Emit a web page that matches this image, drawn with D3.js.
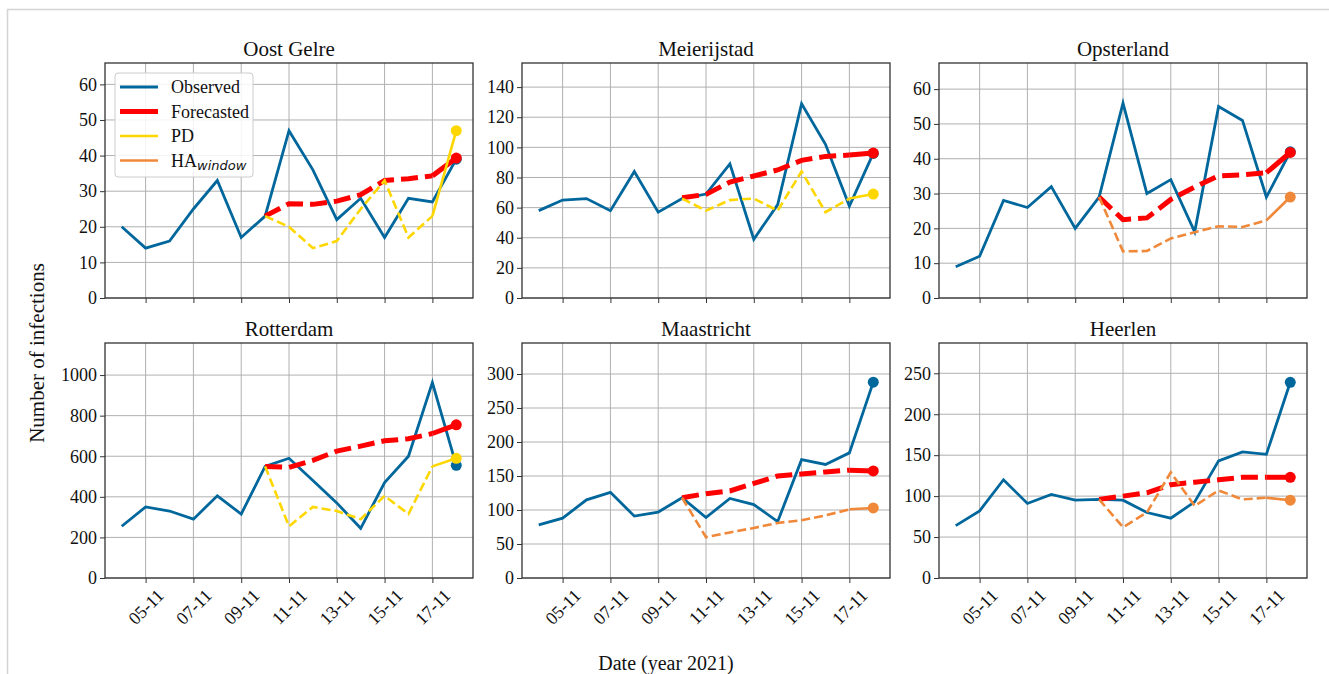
<!DOCTYPE html>
<html>
<head>
<meta charset="utf-8">
<script src="https://cdn.jsdelivr.net/npm/d3@7"></script>
<style>
  body { margin: 0; background: #fff; }
  svg { font-family: "Liberation Serif", "DejaVu Serif", serif; }
</style>
</head>
<body>
<svg id="chart" width="1329" height="674"></svg>
<script>
// dates 04-11 .. 18-11 (year 2021)
var dates = ['04-11','05-11','06-11','07-11','08-11','09-11','10-11','11-11',
             '12-11','13-11','14-11','15-11','16-11','17-11','18-11'];
var tickDates = ['05-11','07-11','09-11','11-11','13-11','15-11','17-11'];
var forecastStart = 6; // forecasts start at 10-11

var oostGelreObserved = [20,14,16,25,33,17,23,47,36,22,28,17,28,27,39];
var oostGelreForecast = [23,26.5,26.3,27.2,29,33,33.5,34.3,39.3];
var oostGelrePD       = [23,20,14,16,25,33,17,23,47];

var meierijstadObserved = [58,65,66,58,84,57,66,69,89,39,62,129,102,61,96];
var meierijstadForecast = [66.5,68.8,77,81,85,91.4,94,94.9,96.2];
var meierijstadPD       = [66,58,65,66,58,84,57,66,69];

var opsterlandObserved = [9,12,28,26,32,20,29,56,30,34,19,55,51,29,42];
var opsterlandForecast = [29,22.5,23,28.3,31.9,35.1,35.4,36,41.8];
var opsterlandHA       = [29,13.4,13.5,17.1,18.9,20.6,20.4,22.3,29];

var rotterdamObserved = [255,350,330,290,405,315,550,590,480,370,245,470,600,963,555];
var rotterdamForecast = [550,545,580,625,650,676,686,712,755];
var rotterdamPD       = [550,255,350,330,290,405,315,550,590];

var maastrichtObserved = [78,88,115,126,91,97,118,89,117,108,83,174,167,184,288];
var maastrichtForecast = [118,124,128,139,150,153,156,158.6,157.5];
var maastrichtHA       = [118,60,67,73.6,81,85,92,101,103];

var heerlenObserved = [64,82,120,91,102,95,96,95,80,73,93,143,154,151,239];
var heerlenForecast = [96,100,104,114,117,120,123,123,123];
var heerlenHA       = [96,62,80,129,88,107,96,98,95];

var cities  = ['Oost Gelre','Meierijstad','Opsterland','Rotterdam','Maastricht','Heerlen'];
var yMaxes  = [66, 156, 67.5, 1158, 345.6, 287];
var yTicks  = [
  [0,10,20,30,40,50,60],
  [0,20,40,60,80,100,120,140],
  [0,10,20,30,40,50,60],
  [0,200,400,600,800,1000],
  [0,50,100,150,200,250,300],
  [0,50,100,150,200,250]
];

var colors = {obs: '#00679c', fc: '#ff0000', pd: '#ffd700', ha: '#f0883a'};

var panels = [
  {obs: oostGelreObserved,   fc: oostGelreForecast,   base: oostGelrePD,   baseKey: 'pd'},
  {obs: meierijstadObserved, fc: meierijstadForecast, base: meierijstadPD, baseKey: 'pd'},
  {obs: opsterlandObserved,  fc: opsterlandForecast,  base: opsterlandHA,  baseKey: 'ha'},
  {obs: rotterdamObserved,   fc: rotterdamForecast,   base: rotterdamPD,   baseKey: 'pd'},
  {obs: maastrichtObserved,  fc: maastrichtForecast,  base: maastrichtHA,  baseKey: 'ha'},
  {obs: heerlenObserved,     fc: heerlenForecast,     base: heerlenHA,     baseKey: 'ha'}
];

var svg = d3.select('#chart');

// light frame around the figure
svg.append('rect')
  .attr('x', 7.5).attr('y', 9.5)
  .attr('width', 1400).attr('height', 800)
  .attr('fill', 'none').attr('stroke', '#d4d4d4').attr('stroke-width', 1.5);

var lefts = [105, 522, 939];
var tops = [63, 343];
var pw = 368, ph = 235;

panels.forEach(function(p, k) {
  var row = Math.floor(k / 3);
  var left = lefts[k % 3], top = tops[row];
  var g = svg.append('g').attr('transform', 'translate(' + left + ',' + top + ')');

  var x = d3.scaleLinear().domain([-0.7, dates.length - 1 + 0.7]).range([0, pw]);
  var y = d3.scaleLinear().domain([0, yMaxes[k]]).range([ph, 0]);
  var tickIdx = tickDates.map(d => dates.indexOf(d));

  // grid
  g.append('g').selectAll('line').data(tickIdx).enter().append('line')
    .attr('x1', d => x(d)).attr('x2', d => x(d))
    .attr('y1', 0).attr('y2', ph)
    .attr('stroke', '#b0b0b0').attr('stroke-width', 1);
  g.append('g').selectAll('line').data(yTicks[k]).enter().append('line')
    .attr('x1', 0).attr('x2', pw)
    .attr('y1', d => y(d)).attr('y2', d => y(d))
    .attr('stroke', '#b0b0b0').attr('stroke-width', 1);

  // axes (only bottom row gets date labels, shared x)
  var xAxis = d3.axisBottom(x).tickValues(tickIdx)
    .tickFormat(d => row === 1 ? dates[d] : '')
    .tickSize(5).tickSizeOuter(0);
  var yAxis = d3.axisLeft(y).tickValues(yTicks[k]).tickFormat(d3.format('d'))
    .tickSize(5).tickSizeOuter(0);

  var xg = g.append('g').attr('transform', 'translate(0,' + ph + ')').call(xAxis)
    .attr('font-family', null).attr('font-size', 18);
  xg.select('.domain').remove();
  xg.selectAll('line').attr('stroke', '#333');
  xg.selectAll('text')
    .attr('fill', '#111')
    .attr('text-anchor', 'middle')
    .attr('dominant-baseline', 'central')
    .attr('y', 0).attr('dy', null)
    .attr('transform', 'translate(0,29) rotate(-45)');

  var yg = g.append('g').call(yAxis)
    .attr('font-family', null).attr('font-size', 18);
  yg.select('.domain').remove();
  yg.selectAll('line').attr('stroke', '#333');
  yg.selectAll('text').attr('fill', '#111').attr('x', -8);

  // frame
  g.append('rect').attr('width', pw).attr('height', ph)
    .attr('fill', 'none').attr('stroke', '#333').attr('stroke-width', 1.3);

  // title
  g.append('text')
    .attr('x', pw / 2).attr('y', -7)
    .attr('text-anchor', 'middle')
    .attr('font-size', 21)
    .attr('fill', '#111')
    .text(cities[k]);

  var lineObs = d3.line().x((d, i) => x(i)).y(d => y(d));
  var lineFc = d3.line().x((d, i) => x(forecastStart + i)).y(d => y(d));
  var n = p.fc.length;

  // observed
  g.append('path').datum(p.obs)
    .attr('d', lineObs).attr('fill', 'none')
    .attr('stroke', colors.obs).attr('stroke-width', 2.8)
    .attr('stroke-linejoin', 'miter');
  g.append('circle')
    .attr('cx', x(p.obs.length - 1)).attr('cy', y(p.obs[p.obs.length - 1]))
    .attr('r', 5.5).attr('fill', colors.obs);

  function drawForecast(vals, color, width, dash) {
    g.append('path').datum(vals.slice(0, n - 1))
      .attr('d', lineFc).attr('fill', 'none')
      .attr('stroke', color).attr('stroke-width', width)
      .attr('stroke-dasharray', dash);
    g.append('line')
      .attr('x1', x(forecastStart + n - 2)).attr('y1', y(vals[n - 2]))
      .attr('x2', x(forecastStart + n - 1)).attr('y2', y(vals[n - 1]))
      .attr('stroke', color).attr('stroke-width', width);
    g.append('circle')
      .attr('cx', x(forecastStart + n - 1)).attr('cy', y(vals[n - 1]))
      .attr('r', 5.5).attr('fill', color);
  }

  drawForecast(p.fc, colors.fc, 5, '17,7');
  drawForecast(p.base, colors[p.baseKey], 2.6, '9,4');
});

// legend (first panel only)
var lg = svg.append('g').attr('transform', 'translate(115,73)');
lg.append('rect').attr('width', 138).attr('height', 104).attr('rx', 3)
  .attr('fill', 'rgba(255,255,255,0.85)').attr('stroke', '#cccccc');
var legendItems = [
  {label: 'Observed', color: colors.obs, w: 2.8},
  {label: 'Forecasted', color: colors.fc, w: 5},
  {label: 'PD', color: colors.pd, w: 2.6},
  {label: 'HA', color: colors.ha, w: 2.6, sub: 'window'}
];
legendItems.forEach(function(d, i) {
  var yy = 14 + i * 24.5;
  lg.append('line').attr('x1', 5).attr('x2', 43).attr('y1', yy).attr('y2', yy)
    .attr('stroke', d.color).attr('stroke-width', d.w);
  var t = lg.append('text').attr('x', 56).attr('y', yy)
    .attr('dominant-baseline', 'central')
    .attr('font-size', 18).attr('fill', '#111')
    .text(d.label);
  if (d.sub) {
    t.append('tspan').attr('dy', 4).attr('font-size', 13)
      .attr('font-style', 'italic')
      .attr('font-family', '"DejaVu Sans", sans-serif')
      .text(d.sub);
  }
});

// shared axis labels
svg.append('text')
  .attr('transform', 'translate(44,353) rotate(-90)')
  .attr('text-anchor', 'middle')
  .attr('font-size', 21).attr('fill', '#111')
  .text('Number of infections');

svg.append('text')
  .attr('x', 666).attr('y', 670)
  .attr('text-anchor', 'middle')
  .attr('font-size', 20).attr('fill', '#111')
  .text('Date (year 2021)');
</script>
</body>
</html>
